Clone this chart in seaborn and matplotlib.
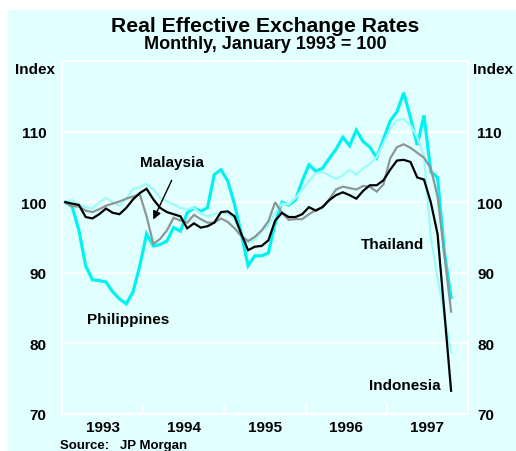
import matplotlib
matplotlib.use("Agg")
import matplotlib.pyplot as plt
from matplotlib.patches import Rectangle
from matplotlib.ticker import FixedLocator
import numpy as np
import pandas as pd
import seaborn as sns

plt.rcParams['font.family'] = ['Liberation Sans', 'DejaVu Sans']
plt.rcParams['font.weight'] = 'bold'

# ---------------- data (monthly, Jan 1993 = 100) ----------------
start_year = 1993
philippines = [100, 99.4, 96, 91, 89, 88.9, 88.7, 87.3, 86.3, 85.6,
               87.3, 91, 95.5, 93.8, 94, 94.5, 96.4, 95.9, 98.5, 99.2,
               98.7, 99.2, 103.9, 104.6, 103, 99.7, 95.5, 91, 92.4, 92.4,
               92.8, 97, 100, 99.6, 100.3, 103, 105.3, 104.4, 104.8, 106.2,
               107.5, 109.2, 108, 110.2, 108.6, 107.8, 106.3, 108.9, 111.5, 112.8,
               115.5, 112, 108.1, 112.3, 104.3, 103.5, 93, 86.5]
thailand = [100, 100.3, 99.7, 99.3, 99.1, 100, 100.6, 100, 99.5, 100.5,
            101.9, 102.1, 102.6, 101.8, 100.6, 100.1, 99.7, 99.2, 99, 99.2,
            98.4, 98, 98.3, 98.5, 98.4, 97.6, 95.3, 94.2, 94.7, 95.9,
            96.7, 98.5, 99.8, 99.7, 100.6, 101.8, 103, 104.1, 104.3, 103.8,
            103.3, 103.8, 104.6, 103.9, 104.8, 105.4, 106.4, 108.3, 110.4, 111.6,
            111.8, 110.9, 109.2, 106.5, 95, 89.3, 84, 78.7]
malaysia = [100, 99.4, 99.4, 98.8, 98.6, 99, 99.5, 99.8, 100.1, 100.5,
            100.8, 101.1, 98, 94.1, 94.8, 96, 97.8, 97.4, 97.1, 98.2,
            97.6, 97.1, 97.1, 97.7, 97.2, 96.3, 95.2, 94.5, 95.1, 96,
            97.3, 100, 98.5, 97.5, 97.6, 97.6, 98.3, 98.9, 99.3, 100.4,
            101.8, 102.2, 102, 101.8, 102.3, 102.2, 101.5, 102.5, 106.2, 107.8,
            108.2, 107.7, 107, 106.3, 104.8, 100.8, 92.7, 84.5]
indonesia = [100, 99.8, 99.6, 97.9, 97.7, 98.3, 99.1, 98.5, 98.3, 99.2,
             100.4, 101.3, 101.9, 100.4, 99.2, 98.6, 98.3, 98, 96.3, 97,
             96.4, 96.6, 97.1, 98.6, 98.7, 98, 95.5, 93.2, 93.7, 93.8,
             94.6, 97.4, 98.5, 97.9, 97.9, 98.3, 99.3, 98.8, 99.3, 100.3,
             101, 101.4, 101, 100.5, 101.6, 102.4, 102.4, 103.1, 104.6, 105.9,
             106, 105.7, 103.5, 103.2, 100, 95.5, 84.5, 73.3]
year_labels = ['1993', '1994', '1995', '1996', '1997']
y_ticks = [70, 80, 90, 100, 110]

months = np.arange(len(philippines))
t = start_year + (months + 0.5) / 12.0

BG = '#e2ffff'
series = [
    ('Philippines', philippines, '#00f2f2', 2.3),
    ('Thailand', thailand, '#9ef9f9', 1.6),
    ('Malaysia', malaysia, '#8c9696', 1.6),
    ('Indonesia', indonesia, '#000000', 1.6),
]

W, H = 516, 452
fig = plt.figure(figsize=(W / 100, H / 100), dpi=100, facecolor='white')
fig.patches.append(Rectangle((8 / W, 0), 1, 1 - 11 / H, transform=fig.transFigure,
                             facecolor=BG, edgecolor='none', zorder=-10))

ax = fig.add_axes([62 / W, 37 / H, 406 / W, 353 / H])
ax.set_facecolor(BG)

for name, vals, col, lw in series:
    df = pd.DataFrame({'t': t, 'v': vals})
    sns.lineplot(data=df, x='t', y='v', color=col, linewidth=lw, ax=ax,
                 solid_joinstyle='miter')

ax.set_xlim(1993, 1998)
ax.set_ylim(70, 120)
ax.set_xlabel('')
ax.set_ylabel('')

# grid
for yv in [80, 90, 100, 110]:
    ax.axhline(yv, color='white', lw=1.3, zorder=0.5)
for sp in ax.spines.values():
    sp.set_color('white')
    sp.set_linewidth(1.5)

# x ticks: labels at mid-year, tick marks at year boundaries
ax.xaxis.set_major_locator(FixedLocator([1993.5 + i for i in range(5)]))
ax.set_xticklabels(year_labels, fontsize=11, fontweight='bold')
ax.xaxis.set_minor_locator(FixedLocator([1994, 1995, 1996, 1997]))
ax.tick_params(axis='x', which='major', length=0, pad=4)
ax.tick_params(axis='x', which='minor', direction='in', length=7, width=1.5, color='white')

ax.set_yticks(y_ticks)
ax.set_yticklabels([str(v) for v in y_ticks], fontsize=11, fontweight='bold')
ax.tick_params(axis='y', length=0, pad=11)

ax2 = ax.twinx()
ax2.set_ylim(70, 120)
ax2.set_yticks(y_ticks)
ax2.set_yticklabels([str(v) for v in y_ticks], fontsize=11, fontweight='bold')
ax2.tick_params(axis='y', length=0, pad=6.5)
for sp in ax2.spines.values():
    sp.set_visible(False)

# titles
fig.text(265 / W, 1 - 26.5 / H, 'Real Effective Exchange Rates', ha='center', va='center',
         fontsize=15.2, fontweight='bold')
fig.text(265 / W, 1 - 44.5 / H, 'Monthly, January 1993 = 100', ha='center', va='center',
         fontsize=13, fontweight='bold')
fig.text(35 / W, 1 - 70 / H, 'Index', ha='center', va='center', fontsize=11, fontweight='bold')
fig.text(493 / W, 1 - 70 / H, 'Index', ha='center', va='center', fontsize=11, fontweight='bold')
fig.text(60 / W, 1 - 446 / H, 'Source:   JP Morgan', ha='left', va='center', fontsize=9.5,
         fontweight='bold')

# series labels
ax.text(0.271, 0.714, 'Malaysia', transform=ax.transAxes, ha='center', va='center',
        fontsize=11, fontweight='bold')
ax.annotate('', xy=(0.222, 0.544), xytext=(0.273, 0.669), xycoords='axes fraction',
            textcoords='axes fraction',
            arrowprops=dict(arrowstyle='-|>', color='black', lw=1.0, mutation_scale=12))
ax.text(0.163, 0.269, 'Philippines', transform=ax.transAxes, ha='center', va='center',
        fontsize=11, fontweight='bold')
ax.text(0.813, 0.482, 'Thailand', transform=ax.transAxes, ha='center', va='center',
        fontsize=11, fontweight='bold')
ax.text(0.845, 0.082, 'Indonesia', transform=ax.transAxes, ha='center', va='center',
        fontsize=11, fontweight='bold')

fig.savefig('out.png', dpi=100, facecolor='white')
